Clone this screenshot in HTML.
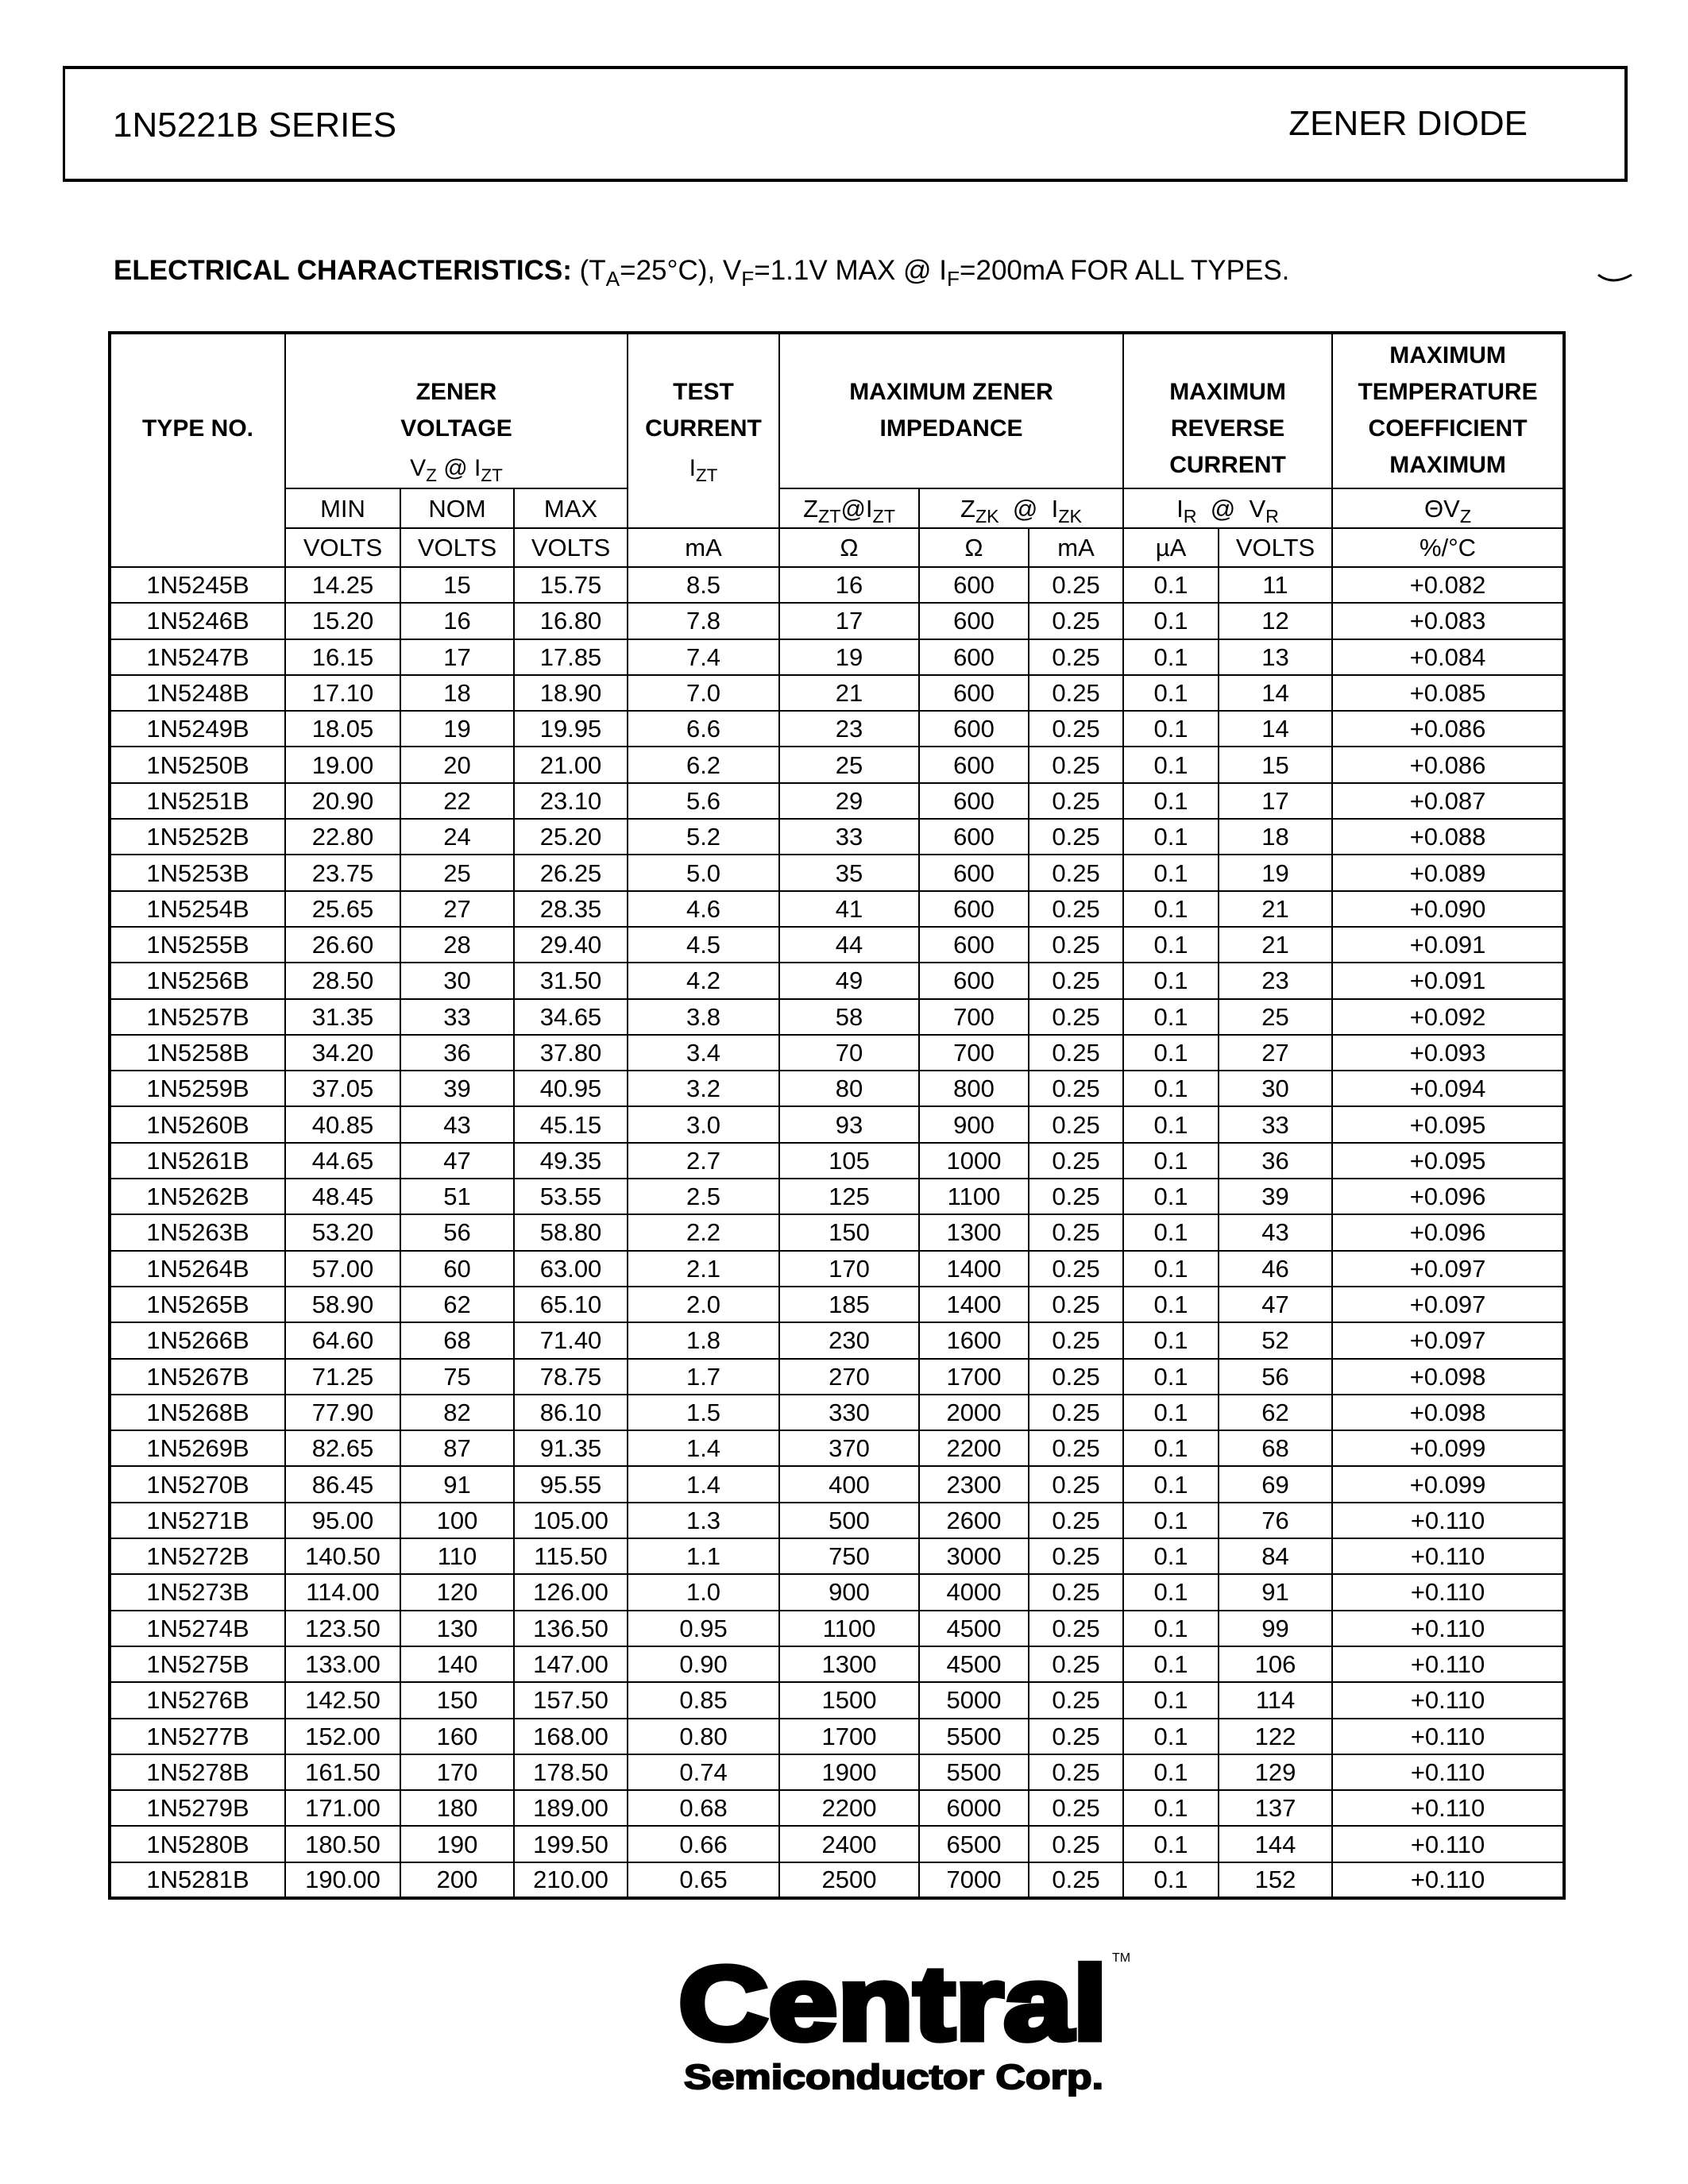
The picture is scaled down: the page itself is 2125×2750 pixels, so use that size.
<!DOCTYPE html>
<html><head><meta charset="utf-8"><style>
*{margin:0;padding:0;box-sizing:border-box}
body{width:2125px;height:2750px;background:#fff;position:relative;font-family:"Liberation Sans",Arial,sans-serif;color:#000;overflow:hidden}
#hbox{position:absolute;left:79px;top:83px;width:1970px;height:146px;border:4px solid #000;border-left-width:3px}
#hbox .l{position:absolute;left:60px;top:46px;font-size:44px}
#hbox .r{position:absolute;right:122px;top:44px;font-size:44px}
#ec{position:absolute;left:143px;top:321px;font-size:35px;white-space:nowrap}
#ec b{font-weight:bold}
sub{font-size:0.75em;vertical-align:-0.3em;line-height:0}
table{position:absolute;left:136px;top:417px;width:1831px;border-collapse:collapse;table-layout:fixed;border:4px solid #000}
td{border:2px solid #000;text-align:center;font-size:31px;padding:0;line-height:1;white-space:nowrap;overflow:hidden}
tr.d td{height:45.3px}
.h td{font-weight:bold;font-size:30px;line-height:46px;vertical-align:top;height:196px}
.h2 td{height:50px}
.h3 td{height:49px}
</style></head><body>
<div id="hbox"><div class="l">1N5221B SERIES</div><div class="r">ZENER DIODE</div></div>
<div id="ec"><b>ELECTRICAL CHARACTERISTICS:</b> (T<sub>A</sub>=25°C), V<sub>F</sub>=1.1V MAX @ I<sub>F</sub>=200mA FOR ALL TYPES.</div>
<svg style="position:absolute;left:2010px;top:340px" width="50" height="20"><path d="M2 6 Q20 20 44 6" stroke="#000" stroke-width="3" fill="none"/></svg>
<table>
<colgroup><col style="width:221px"><col style="width:145px"><col style="width:143px"><col style="width:143px"><col style="width:191px"><col style="width:176px"><col style="width:138px"><col style="width:119px"><col style="width:120px"><col style="width:143px"><col style="width:292px"></colgroup>
<tr class="h">
<td rowspan="3" style="padding-top:96px">TYPE NO.</td>
<td colspan="3" style="padding-top:50px">ZENER<br>VOLTAGE<br><span style="font-weight:normal;display:inline-block;margin-top:4px">V<sub>Z</sub> @ I<sub>ZT</sub></span></td>
<td rowspan="2" style="padding-top:50px">TEST<br>CURRENT<br><span style="font-weight:normal;display:inline-block;margin-top:4px">I<sub>ZT</sub></span></td>
<td colspan="3" style="padding-top:50px">MAXIMUM ZENER<br>IMPEDANCE</td>
<td colspan="2" style="padding-top:50px">MAXIMUM<br>REVERSE<br>CURRENT</td>
<td style="padding-top:4px">MAXIMUM<br>TEMPERATURE<br>COEFFICIENT<br>MAXIMUM</td>
</tr>
<tr class="h2"><td>MIN</td><td>NOM</td><td>MAX</td><td>Z<sub>ZT</sub>@I<sub>ZT</sub></td><td colspan="2">Z<sub>ZK</sub> &nbsp;@ &nbsp;I<sub>ZK</sub></td><td colspan="2">I<sub>R</sub> &nbsp;@ &nbsp;V<sub>R</sub></td><td>ΘV<sub>Z</sub></td></tr>
<tr class="h3"><td>VOLTS</td><td>VOLTS</td><td>VOLTS</td><td>mA</td><td>Ω</td><td>Ω</td><td>mA</td><td>µA</td><td>VOLTS</td><td>%/°C</td></tr>
<tr class="d"><td>1N5245B</td><td>14.25</td><td>15</td><td>15.75</td><td>8.5</td><td>16</td><td>600</td><td>0.25</td><td>0.1</td><td>11</td><td>+0.082</td></tr>
<tr class="d"><td>1N5246B</td><td>15.20</td><td>16</td><td>16.80</td><td>7.8</td><td>17</td><td>600</td><td>0.25</td><td>0.1</td><td>12</td><td>+0.083</td></tr>
<tr class="d"><td>1N5247B</td><td>16.15</td><td>17</td><td>17.85</td><td>7.4</td><td>19</td><td>600</td><td>0.25</td><td>0.1</td><td>13</td><td>+0.084</td></tr>
<tr class="d"><td>1N5248B</td><td>17.10</td><td>18</td><td>18.90</td><td>7.0</td><td>21</td><td>600</td><td>0.25</td><td>0.1</td><td>14</td><td>+0.085</td></tr>
<tr class="d"><td>1N5249B</td><td>18.05</td><td>19</td><td>19.95</td><td>6.6</td><td>23</td><td>600</td><td>0.25</td><td>0.1</td><td>14</td><td>+0.086</td></tr>
<tr class="d"><td>1N5250B</td><td>19.00</td><td>20</td><td>21.00</td><td>6.2</td><td>25</td><td>600</td><td>0.25</td><td>0.1</td><td>15</td><td>+0.086</td></tr>
<tr class="d"><td>1N5251B</td><td>20.90</td><td>22</td><td>23.10</td><td>5.6</td><td>29</td><td>600</td><td>0.25</td><td>0.1</td><td>17</td><td>+0.087</td></tr>
<tr class="d"><td>1N5252B</td><td>22.80</td><td>24</td><td>25.20</td><td>5.2</td><td>33</td><td>600</td><td>0.25</td><td>0.1</td><td>18</td><td>+0.088</td></tr>
<tr class="d"><td>1N5253B</td><td>23.75</td><td>25</td><td>26.25</td><td>5.0</td><td>35</td><td>600</td><td>0.25</td><td>0.1</td><td>19</td><td>+0.089</td></tr>
<tr class="d"><td>1N5254B</td><td>25.65</td><td>27</td><td>28.35</td><td>4.6</td><td>41</td><td>600</td><td>0.25</td><td>0.1</td><td>21</td><td>+0.090</td></tr>
<tr class="d"><td>1N5255B</td><td>26.60</td><td>28</td><td>29.40</td><td>4.5</td><td>44</td><td>600</td><td>0.25</td><td>0.1</td><td>21</td><td>+0.091</td></tr>
<tr class="d"><td>1N5256B</td><td>28.50</td><td>30</td><td>31.50</td><td>4.2</td><td>49</td><td>600</td><td>0.25</td><td>0.1</td><td>23</td><td>+0.091</td></tr>
<tr class="d"><td>1N5257B</td><td>31.35</td><td>33</td><td>34.65</td><td>3.8</td><td>58</td><td>700</td><td>0.25</td><td>0.1</td><td>25</td><td>+0.092</td></tr>
<tr class="d"><td>1N5258B</td><td>34.20</td><td>36</td><td>37.80</td><td>3.4</td><td>70</td><td>700</td><td>0.25</td><td>0.1</td><td>27</td><td>+0.093</td></tr>
<tr class="d"><td>1N5259B</td><td>37.05</td><td>39</td><td>40.95</td><td>3.2</td><td>80</td><td>800</td><td>0.25</td><td>0.1</td><td>30</td><td>+0.094</td></tr>
<tr class="d"><td>1N5260B</td><td>40.85</td><td>43</td><td>45.15</td><td>3.0</td><td>93</td><td>900</td><td>0.25</td><td>0.1</td><td>33</td><td>+0.095</td></tr>
<tr class="d"><td>1N5261B</td><td>44.65</td><td>47</td><td>49.35</td><td>2.7</td><td>105</td><td>1000</td><td>0.25</td><td>0.1</td><td>36</td><td>+0.095</td></tr>
<tr class="d"><td>1N5262B</td><td>48.45</td><td>51</td><td>53.55</td><td>2.5</td><td>125</td><td>1100</td><td>0.25</td><td>0.1</td><td>39</td><td>+0.096</td></tr>
<tr class="d"><td>1N5263B</td><td>53.20</td><td>56</td><td>58.80</td><td>2.2</td><td>150</td><td>1300</td><td>0.25</td><td>0.1</td><td>43</td><td>+0.096</td></tr>
<tr class="d"><td>1N5264B</td><td>57.00</td><td>60</td><td>63.00</td><td>2.1</td><td>170</td><td>1400</td><td>0.25</td><td>0.1</td><td>46</td><td>+0.097</td></tr>
<tr class="d"><td>1N5265B</td><td>58.90</td><td>62</td><td>65.10</td><td>2.0</td><td>185</td><td>1400</td><td>0.25</td><td>0.1</td><td>47</td><td>+0.097</td></tr>
<tr class="d"><td>1N5266B</td><td>64.60</td><td>68</td><td>71.40</td><td>1.8</td><td>230</td><td>1600</td><td>0.25</td><td>0.1</td><td>52</td><td>+0.097</td></tr>
<tr class="d"><td>1N5267B</td><td>71.25</td><td>75</td><td>78.75</td><td>1.7</td><td>270</td><td>1700</td><td>0.25</td><td>0.1</td><td>56</td><td>+0.098</td></tr>
<tr class="d"><td>1N5268B</td><td>77.90</td><td>82</td><td>86.10</td><td>1.5</td><td>330</td><td>2000</td><td>0.25</td><td>0.1</td><td>62</td><td>+0.098</td></tr>
<tr class="d"><td>1N5269B</td><td>82.65</td><td>87</td><td>91.35</td><td>1.4</td><td>370</td><td>2200</td><td>0.25</td><td>0.1</td><td>68</td><td>+0.099</td></tr>
<tr class="d"><td>1N5270B</td><td>86.45</td><td>91</td><td>95.55</td><td>1.4</td><td>400</td><td>2300</td><td>0.25</td><td>0.1</td><td>69</td><td>+0.099</td></tr>
<tr class="d"><td>1N5271B</td><td>95.00</td><td>100</td><td>105.00</td><td>1.3</td><td>500</td><td>2600</td><td>0.25</td><td>0.1</td><td>76</td><td>+0.110</td></tr>
<tr class="d"><td>1N5272B</td><td>140.50</td><td>110</td><td>115.50</td><td>1.1</td><td>750</td><td>3000</td><td>0.25</td><td>0.1</td><td>84</td><td>+0.110</td></tr>
<tr class="d"><td>1N5273B</td><td>114.00</td><td>120</td><td>126.00</td><td>1.0</td><td>900</td><td>4000</td><td>0.25</td><td>0.1</td><td>91</td><td>+0.110</td></tr>
<tr class="d"><td>1N5274B</td><td>123.50</td><td>130</td><td>136.50</td><td>0.95</td><td>1100</td><td>4500</td><td>0.25</td><td>0.1</td><td>99</td><td>+0.110</td></tr>
<tr class="d"><td>1N5275B</td><td>133.00</td><td>140</td><td>147.00</td><td>0.90</td><td>1300</td><td>4500</td><td>0.25</td><td>0.1</td><td>106</td><td>+0.110</td></tr>
<tr class="d"><td>1N5276B</td><td>142.50</td><td>150</td><td>157.50</td><td>0.85</td><td>1500</td><td>5000</td><td>0.25</td><td>0.1</td><td>114</td><td>+0.110</td></tr>
<tr class="d"><td>1N5277B</td><td>152.00</td><td>160</td><td>168.00</td><td>0.80</td><td>1700</td><td>5500</td><td>0.25</td><td>0.1</td><td>122</td><td>+0.110</td></tr>
<tr class="d"><td>1N5278B</td><td>161.50</td><td>170</td><td>178.50</td><td>0.74</td><td>1900</td><td>5500</td><td>0.25</td><td>0.1</td><td>129</td><td>+0.110</td></tr>
<tr class="d"><td>1N5279B</td><td>171.00</td><td>180</td><td>189.00</td><td>0.68</td><td>2200</td><td>6000</td><td>0.25</td><td>0.1</td><td>137</td><td>+0.110</td></tr>
<tr class="d"><td>1N5280B</td><td>180.50</td><td>190</td><td>199.50</td><td>0.66</td><td>2400</td><td>6500</td><td>0.25</td><td>0.1</td><td>144</td><td>+0.110</td></tr>
<tr class="d"><td>1N5281B</td><td>190.00</td><td>200</td><td>210.00</td><td>0.65</td><td>2500</td><td>7000</td><td>0.25</td><td>0.1</td><td>152</td><td>+0.110</td></tr>
</table>
<svg style="position:absolute;left:836px;top:2440px" width="600" height="210">
<text x="18" y="128" font-family="Liberation Sans, sans-serif" font-weight="bold" font-size="132" textLength="540" lengthAdjust="spacingAndGlyphs" stroke="#000" stroke-width="7">Central</text>
<text x="564" y="30" font-family="Liberation Sans, sans-serif" font-size="16">TM</text>
<text x="25" y="190" font-family="Liberation Sans, sans-serif" font-weight="bold" font-size="44" textLength="528" lengthAdjust="spacingAndGlyphs" stroke="#000" stroke-width="2">Semiconductor Corp.</text>
</svg>
</body></html>
